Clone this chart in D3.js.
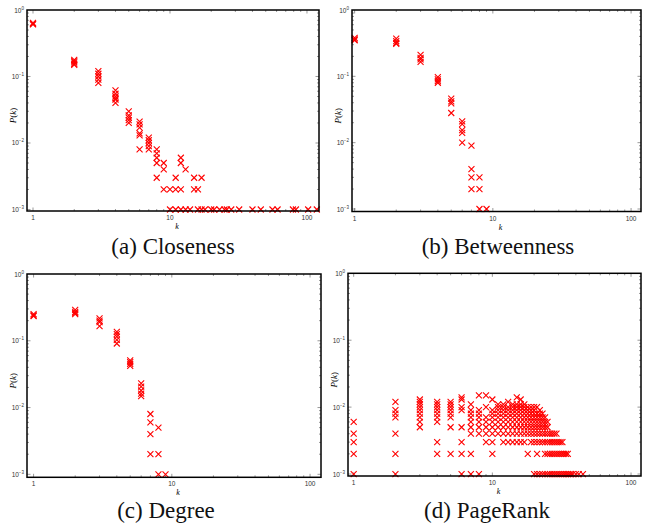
<!DOCTYPE html>
<html><head><meta charset="utf-8">
<script src="https://cdn.jsdelivr.net/npm/d3@7"></script>
<style>body{margin:0;background:#fff}</style>
</head><body>
<svg id="c" width="651" height="529" xmlns="http://www.w3.org/2000/svg"></svg>
<script>
// ---- DATA: [k, [P(k) values]] ----
const closeness = [
  [1,[0.64,0.62,0.61]],
  [2,[0.178,0.17,0.163,0.155,0.15]],
  [3,[0.12,0.11,0.10,0.09,0.08]],
  [4,[0.062,0.055,0.05,0.047,0.045,0.04]],
  [5,[0.03,0.026,0.024,0.022,0.02]],
  [6,[0.021,0.019,0.017,0.014,0.013,0.008]],
  [7,[0.012,0.011,0.01,0.009,0.008]],
  [8,[0.008,0.007,0.006,0.005,0.003]],
  [9,[0.005,0.004,0.002]],
  [10,[0.002,0.001]],
  [11,[0.003,0.002,0.001]],
  [12,[0.006,0.005,0.002,0.001]],
  [13,[0.004,0.001]],
  [14,[0.001]],
  [15,[0.003,0.002]],
  [16,[0.002,0.001]],
  [17,[0.003,0.001]],
  [18,[0.001]],[20,[0.001]],[21,[0.001]],[23,[0.001]],[25,[0.001]],
  [26,[0.001]],[28,[0.001]],[32,[0.001]],[40,[0.001]],[46,[0.001]],
  [56,[0.001]],[61,[0.001]],[79,[0.001]],[83,[0.001]],[102,[0.001]],[118,[0.001]]
];
const betweenness = [
  [1,[0.38,0.36,0.35]],
  [2,[0.37,0.34,0.32,0.31]],
  [3,[0.21,0.19,0.18,0.165]],
  [4,[0.097,0.09,0.085,0.08]],
  [5,[0.046,0.042,0.039,0.028]],
  [6,[0.021,0.019,0.0155,0.014,0.010]],
  [7,[0.009,0.004,0.003,0.002]],
  [8,[0.003,0.002,0.001]],
  [9,[0.001]]
];
const degree = [
  [1,[0.25,0.24,0.235]],
  [2,[0.29,0.27,0.26,0.25]],
  [3,[0.216,0.2,0.19,0.166]],
  [4,[0.136,0.126,0.115,0.103,0.091]],
  [5,[0.051,0.048,0.045,0.042]],
  [6,[0.023,0.0205,0.018,0.0162,0.0148]],
  [7,[0.008,0.006,0.004,0.002]],
  [8,[0.005,0.002,0.001]],
  [9,[0.001]]
];
const pagerank = [
  [1,[0.006,0.004,0.003,0.002,0.001]],
  [2,[0.012,0.009,0.008,0.007,0.004,0.002,0.001]],
  [3,[0.013,0.012,0.011,0.010,0.009,0.008,0.007,0.006,0.005]],
  [4,[0.012,0.011,0.010,0.009,0.008,0.007,0.006,0.003,0.002]],
  [5,[0.012,0.011,0.010,0.009,0.008,0.007,0.005,0.002]],
  [6,[0.014,0.013,0.010,0.009,0.005,0.003,0.002,0.001]],
  [7,[0.011,0.009,0.008,0.007,0.006,0.005,0.004,0.002,0.001]],
  [8,[0.015,0.009,0.008,0.007,0.006,0.005,0.004,0.001]],
  [9,[0.015,0.010,0.007,0.006,0.005,0.004,0.003]],
  [10,[0.013,0.009,0.008,0.007,0.006,0.005,0.004,0.003,0.002]],
  [11,[0.011,0.010,0.009,0.008,0.007,0.006,0.005,0.004]],
  [12,[0.011,0.010,0.009,0.008,0.007,0.006,0.005,0.004,0.003]],
  [13,[0.012,0.010,0.009,0.008,0.007,0.006,0.005,0.004,0.003]],
  [14,[0.011,0.010,0.009,0.008,0.007,0.006,0.005,0.004,0.003]],
  [15,[0.014,0.011,0.010,0.009,0.008,0.007,0.006,0.005,0.004,0.003]],
  [16,[0.013,0.011,0.010,0.009,0.008,0.007,0.006,0.005,0.004,0.003]],
  [17,[0.011,0.010,0.009,0.008,0.007,0.006,0.005,0.004,0.003]],
  [18,[0.010,0.009,0.008,0.007,0.006,0.005,0.004,0.002]],
  [19,[0.010,0.009,0.008,0.007,0.006,0.005,0.004,0.003]],
  [20,[0.010,0.009,0.008,0.007,0.006,0.005,0.004,0.003,0.001]],
  [21,[0.010,0.008,0.007,0.006,0.005,0.004,0.003,0.002,0.001]],
  [22,[0.009,0.008,0.007,0.006,0.005,0.004,0.003,0.001]],
  [23,[0.008,0.007,0.006,0.005,0.004,0.003,0.001]],
  [24,[0.007,0.006,0.005,0.004,0.003,0.002,0.001]],
  [25,[0.006,0.005,0.004,0.003,0.002,0.001]],
  [26,[0.004,0.003,0.002,0.001]],
  [27,[0.004,0.003,0.002,0.001]],
  [28,[0.004,0.003,0.002,0.001]],
  [29,[0.004,0.003,0.002,0.001]],
  [30,[0.003,0.002,0.001]],
  [31,[0.003,0.002,0.001]],
  [32,[0.003,0.002,0.001]],
  [33,[0.002,0.001]],
  [34,[0.002,0.001]],
  [35,[0.002,0.001]],
  [36,[0.001]],[37,[0.001]],[38,[0.001]],[40,[0.001]],[42,[0.001]],[45,[0.001]]
];
const xTickValues = [1,10,100];
const xTickLabels = ["1","10","100"];
const yTickValues = [1,0.1,0.01,0.001];
const yTickExponents = ["0","\u22121","\u22122","\u22123"];
const captions = ["(a) Closeness","(b) Betweenness","(c) Degree","(d) PageRank"];
const xLabel = "k";

// ---- LAYOUT ----
const panels = [
  {data:closeness,   cap:captions[0], x0:27,  x1:319, y0:10,    y1:211,   xd:[0.904,122.4], yd:[0.000949,1], capX:173, capY:254},
  {data:betweenness, cap:captions[1], x0:352, x1:641, y0:10,    y1:211.5, xd:[0.957,118],   yd:[0.000917,1], capX:498, capY:254},
  {data:degree,      cap:captions[2], x0:27,  x1:321, y0:274,   y1:477.3, xd:[0.896,120],   yd:[0.000902,1], capX:166, capY:518},
  {data:pagerank,    cap:captions[3], x0:348, x1:641, y0:273.3, y1:476,   xd:[0.91,118],    yd:[0.000934,1], capX:487, capY:518}
];

const svg = d3.select("#c");
svg.append("rect").attr("width",651).attr("height",529).attr("fill","#fff");

panels.forEach(p => {
  const x = d3.scaleLog().domain(p.xd).range([p.x0,p.x1]);
  const y = d3.scaleLog().domain(p.yd).range([p.y1,p.y0]);
  const g = svg.append("g");

  const xt = x.ticks();
  const yt = y.ticks();
  const isMajor = v => Math.abs(Math.log10(v) - Math.round(Math.log10(v))) < 1e-9;
  const tk = g.append("g").attr("stroke","#555").attr("stroke-width",0.6);
  xt.forEach(v => {
    const px = x(v); if (px < p.x0+1 || px > p.x1-1) return;
    const L = isMajor(v) ? 3.5 : 2;
    tk.append("line").attr("x1",px).attr("x2",px).attr("y1",p.y1).attr("y2",p.y1-L);
    tk.append("line").attr("x1",px).attr("x2",px).attr("y1",p.y0).attr("y2",p.y0+L);
  });
  yt.forEach(v => {
    const py = y(v); if (py < p.y0+1 || py > p.y1-1) return;
    const L = isMajor(v) ? 3.5 : 2;
    tk.append("line").attr("y1",py).attr("y2",py).attr("x1",p.x0).attr("x2",p.x0+L);
    tk.append("line").attr("y1",py).attr("y2",py).attr("x1",p.x1).attr("x2",p.x1-L);
  });

  const pts = [];
  p.data.forEach(([k, vals]) => vals.forEach(v => pts.push([k, v])));
  const s = 3;
  g.append("g").selectAll("path").data(pts).join("path")
    .attr("transform", d => `translate(${x(d[0])},${y(d[1])})`)
    .attr("d", `M${-s},${-s}L${s},${s}M${-s},${s}L${s},${-s}`)
    .attr("stroke","#ff0000").attr("stroke-width",1.1).attr("fill","none");

  g.append("rect").attr("x",p.x0).attr("y",p.y0).attr("width",p.x1-p.x0).attr("height",p.y1-p.y0)
    .attr("fill","none").attr("stroke","#000").attr("stroke-width",1.5);

  xTickValues.forEach((v,i) => {
    g.append("text").attr("x",x(v)).attr("y",p.y1+9).attr("text-anchor","middle")
      .attr("font-family","Liberation Sans, Arial, sans-serif").attr("font-size",6.5).attr("fill","#333")
      .text(xTickLabels[i]);
  });
  yTickValues.forEach((v,i) => {
    const t = g.append("text").attr("x",p.x0-3).attr("y",y(v)+2.5).attr("text-anchor","end")
      .attr("font-family","Liberation Sans, Arial, sans-serif").attr("font-size",6.5).attr("fill","#333");
    t.append("tspan").text("10");
    t.append("tspan").attr("dy",-3).attr("font-size",4.5).text(yTickExponents[i]);
  });
  g.append("text").attr("x",(p.x0+p.x1)/2 + 4).attr("y",p.y1+18).attr("text-anchor","middle")
    .attr("font-family","Liberation Serif, Times New Roman, serif").attr("font-style","italic")
    .attr("font-size",8).text(xLabel);
  const yl = g.append("text").attr("transform",`translate(${p.x0-11},${(p.y0+p.y1)/2 + 5}) rotate(-90)`)
    .attr("text-anchor","middle").attr("font-family","Liberation Serif, Times New Roman, serif").attr("font-size",9);
  yl.append("tspan").attr("font-style","italic").text("P");
  yl.append("tspan").text("(");
  yl.append("tspan").attr("font-style","italic").text("k");
  yl.append("tspan").text(")");

  svg.append("text").attr("x",p.capX).attr("y",p.capY).attr("text-anchor","middle")
    .attr("font-family","Liberation Serif, Times New Roman, serif").attr("font-size",23).attr("fill","#111")
    .text(p.cap);
});
</script>
</body></html>
